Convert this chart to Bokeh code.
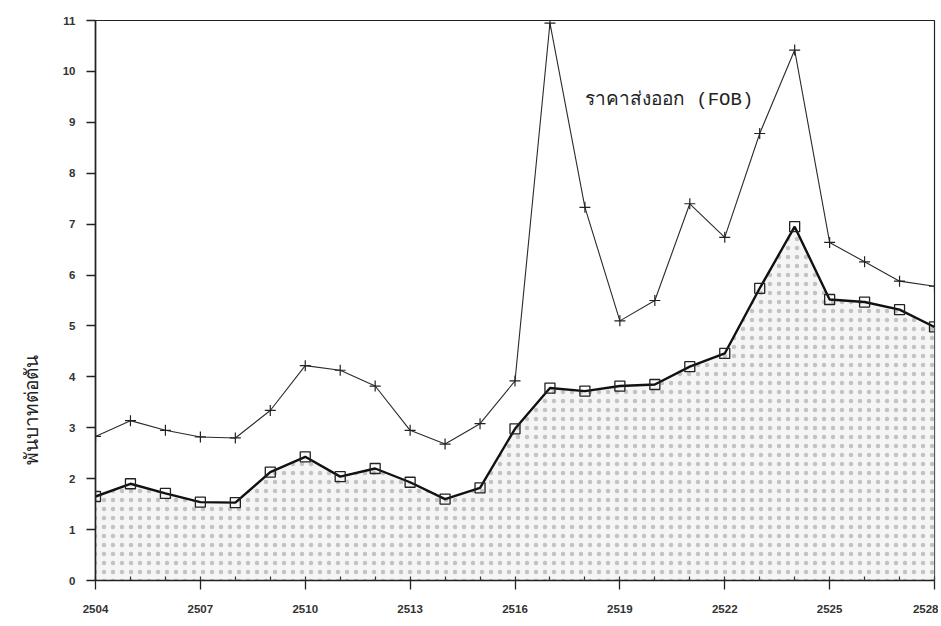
from bokeh.plotting import figure
from bokeh.models import Label, FixedTicker, Range1d, Title
from bokeh.embed import file_html
from bokeh.resources import INLINE

years = list(range(2504, 2529))
fob_price = [2.83, 3.14, 2.95, 2.82, 2.80, 3.34, 4.22, 4.13, 3.82, 2.95, 2.68, 3.08,
             3.92, 10.95, 7.33, 5.10, 5.50, 7.40, 6.74, 8.78, 10.42, 6.64, 6.26, 5.88, 5.78]
farm_price = [1.65, 1.90, 1.71, 1.54, 1.53, 2.13, 2.43, 2.04, 2.20, 1.93, 1.60, 1.82,
              2.98, 3.78, 3.72, 3.82, 3.85, 4.20, 4.46, 5.74, 6.95, 5.52, 5.47, 5.32, 4.98]
x_ticks = [2504, 2507, 2510, 2513, 2516, 2519, 2522, 2525, 2528]
y_ticks = list(range(0, 12))
fob_label = "ราคาส่งออก (FOB)"
y_label = "พันบาทต่อตัน"

p = figure(width=938, height=622, output_backend="svg", toolbar_location=None,
           x_range=Range1d(2504, 2528), y_range=Range1d(0, 11),
           min_border_left=95, min_border_right=4, min_border_top=20, min_border_bottom=42)

p.background_fill_color = "white"
p.border_fill_color = "white"
p.outline_line_color = "#222222"
p.outline_line_width = 1.2
p.grid.visible = False

# stippled area under the lower series
p.varea(x=years, y1=[0] * len(years), y2=farm_price,
        fill_color="#f5f5f5", fill_alpha=1.0,
        hatch_pattern=".", hatch_color="#666666", hatch_alpha=0.35,
        hatch_scale=9, hatch_weight=1)

p.line(years, fob_price, line_color="#2a2a2a", line_width=1.1)
p.scatter(years, fob_price, marker="cross", size=11, line_color="#222222", line_width=1.2)

p.line(years, farm_price, line_color="#111111", line_width=2.4)
p.scatter(years, farm_price, marker="square", size=10, line_color="#222222",
          fill_color=None, line_width=1.3)

for ax in (p.xaxis[0], p.yaxis[0]):
    ax.axis_line_color = "#222222"
    ax.axis_line_width = 1.6
    ax.major_tick_line_color = "#222222"
    ax.major_tick_line_width = 1.3
    ax.major_tick_in = 0
    ax.major_tick_out = 9
    ax.major_label_text_font = "Liberation Sans"
    ax.major_label_text_font_size = "11.5px"
    ax.major_label_text_font_style = "bold"
    ax.major_label_text_color = "#333333"

p.xaxis.ticker = FixedTicker(ticks=x_ticks, minor_ticks=years)
p.xaxis.minor_tick_line_color = "#333333"
p.xaxis.minor_tick_line_width = 1.2
p.xaxis.minor_tick_in = 4
p.xaxis.minor_tick_out = 0
p.yaxis.ticker = FixedTicker(ticks=y_ticks)
p.yaxis.minor_tick_line_color = None
p.xaxis.major_label_standoff = 15
p.yaxis.major_label_standoff = 11

p.add_layout(Label(x=2518.0, y=9.43, text=fob_label, text_font="Liberation Mono",
                   text_font_size="19px", text_color="#222222",
                   text_align="left", text_baseline="middle"))

p.add_layout(Title(text=y_label, align="left", offset=116,
                   text_font="Liberation Serif", text_font_size="19px",
                   text_font_style="normal", text_color="#222222",
                   standoff=35), "left")

open("out.html", "w").write(file_html(p, INLINE))
